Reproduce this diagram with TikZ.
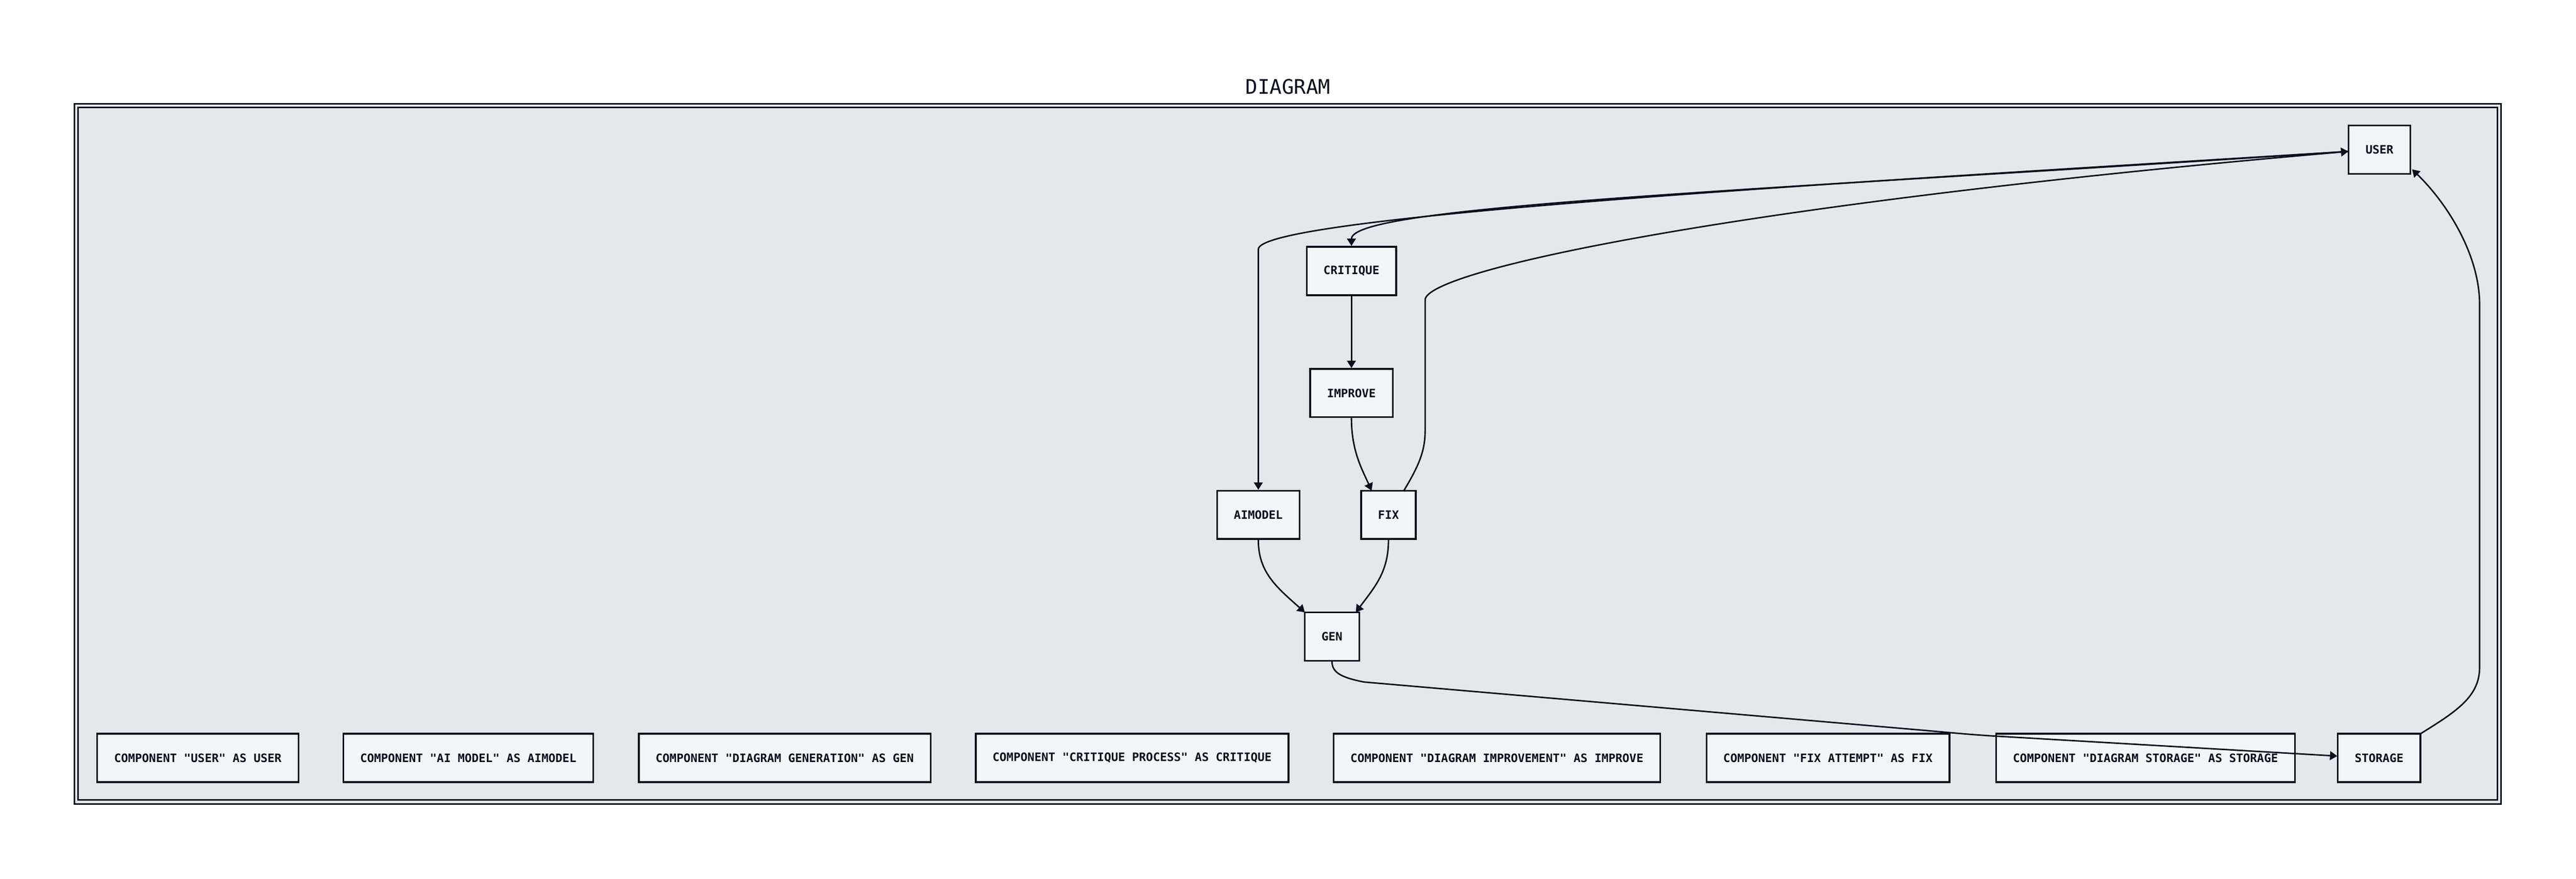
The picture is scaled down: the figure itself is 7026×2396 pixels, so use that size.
\documentclass[tikz,border=0pt]{standalone}
\usepackage{fontspec}
\newfontfamily\monof{DejaVu Sans Mono}
\usetikzlibrary{arrows.meta}
\definecolor{ink}{HTML}{0A0F1E}
\definecolor{bgfill}{HTML}{E6E7EC}
\definecolor{boxfill}{HTML}{F4F5F9}
\tikzset{
  comp/.style={draw=ink, line width=1.15pt, fill=boxfill, text=ink,
    font=\monof\bfseries\fontsize{7.9}{9.5}\selectfont,
    inner xsep=11.5pt, inner ysep=0pt, minimum height=33pt},
  link/.style={draw=ink, line width=1pt, -{Triangle[length=5pt,width=6pt]}},
  frame/.style={draw=ink, line width=1.1pt}
}
\begin{document}
\begin{tikzpicture}[x=0.25pt,y=-0.25pt]
\useasboundingbox (0,0) rectangle (7026,2396);
% container
\draw[frame, fill=bgfill] (203,283) rectangle (6822,2193);
\draw[frame] (213,293) rectangle (6812,2181);
\node[text=ink, font=\monof\fontsize{13.7}{16}\selectfont] (title) at (3513,236) {DIAGRAM};
% main nodes
\node[comp] (user) at (6490,408) {USER};
\node[comp] (critique) at (3686,739) {CRITIQUE};
\node[comp] (improve) at (3686,1072) {IMPROVE};
\node[comp] (aimodel) at (3432,1404) {AIMODEL};
\node[comp] (fix) at (3787,1404) {FIX};
\node[comp] (gen) at (3633,1736) {GEN};
\node[comp] (storage) at (6489,2067) {STORAGE};
% bottom row
\node[comp, anchor=west] (c1) at (263,2067) {COMPONENT "USER" AS USER};
\node[comp, anchor=west] (c2) at (934,2067) {COMPONENT "AI MODEL" AS AIMODEL};
\node[comp, anchor=west] (c3) at (1740,2067) {COMPONENT "DIAGRAM GENERATION" AS GEN};
\node[comp, anchor=west] (c4) at (2659,2067) {COMPONENT "CRITIQUE PROCESS" AS CRITIQUE};
\node[comp, anchor=west] (c5) at (3635,2067) {COMPONENT "DIAGRAM IMPROVEMENT" AS IMPROVE};
\node[comp, anchor=west] (c6) at (4652,2067) {COMPONENT "FIX ATTEMPT" AS FIX};
\node[comp, anchor=west] (c7) at (5442,2067) {COMPONENT "DIAGRAM STORAGE" AS STORAGE};
% helper coordinates
\coordinate (uin) at (6405,413);
\coordinate (fixout) at (3829,1338);
\coordinate (userbr) at (6579,462);
\coordinate (storetr) at (6602,2001);
% edges
\draw[link] (uin) .. controls (4800,520) and (3686,560) .. (critique.north);
\draw[link] (uin) .. controls (5000,500) and (3432,590) .. (3432,680) -- (aimodel.north);
\draw[link] (critique.south) -- (improve.north);
\draw[link] (improve.south) .. controls (3686,1230) and (3715,1280) .. (3741,1338);
\draw[link] (fixout) .. controls (3870,1270) and (3887,1230) .. (3887,1174) -- (3887,818)
   .. controls (3887,740) and (4700,560) .. (uin);
\draw[link] (aimodel.south) .. controls (3432,1560) and (3480,1600) .. (3559,1670);
\draw[link] (fix.south) .. controls (3787,1560) and (3750,1600) .. (3698,1670);
\draw[link] (gen.south) .. controls (3633,1835) and (3660,1848) .. (3720,1860) -- (5250,1992)
   .. controls (5330,1999) and (5380,2004) .. (5450,2008) -- (6375,2062);
\draw[link] (storetr) .. controls (6700,1940) and (6763,1900) .. (6763,1820) -- (6763,830)
   .. controls (6763,700) and (6680,560) .. (userbr);
\end{tikzpicture}
\end{document}
